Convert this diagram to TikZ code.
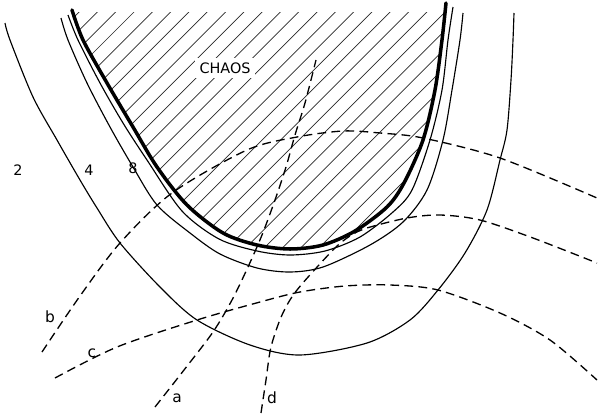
\documentclass[tikz,border=0pt]{standalone}
\usepackage{fontspec}
\setmainfont{DejaVu Sans}
\usetikzlibrary{calc}
\definecolor{hatchgray}{RGB}{40,40,40}

% boundary of the chaotic region, reused for the clip
\newcommand{\chaosedgepath}{plot[smooth] coordinates {
    (72,10) (83,40) (107,83) (133,127) (157,167) (187,205) (223,233)
    (257,245) (290,249) (323,245) (355,231) (387,207) (404,183)
    (423,140) (435,90) (442,40) (446,3)}}

\begin{document}
\begin{tikzpicture}[
    x=0.02cm, y=-0.02cm,
    chaosedge/.style={line width=2pt, line join=round, line cap=round},
    levelline/.style={line width=0.65pt},
    hatchline/.style={line width=0.4pt, color=hatchgray},
    orbit/.style={line width=0.75pt, dash pattern=on 5pt off 3pt},
    levellabel/.style={font=\fontsize{8.2}{10}\selectfont, inner sep=1pt},
    orbitlabel/.style={font=\fontsize{8.8}{11}\selectfont, inner sep=1pt},
    chaoslabel/.style={font=\fontsize{8.2}{10}\selectfont, fill=white,
                       inner sep=2.5pt},
]
\useasboundingbox (0,0) rectangle (599,416);

% ======================================================
% Hatched chaotic region inside the thick boundary
% ======================================================
\begin{scope}
  \clip (0,12) rectangle (599,416);
  \clip \chaosedgepath -- cycle;
  \foreach \n in {-14,...,16} {
      \draw[hatchline] ({329+18.3*\n},0) -- ++(-450,450);
  }
\end{scope}
\node[chaoslabel] (chaos) at (225,68) {CHAOS};

% ======================================================
% Level curves 2, 4, 8 and the chaos boundary
% ======================================================
\draw[levelline] plot[smooth] coordinates {
    (5,23) (10,40) (33,97) (57,140) (80,180) (97,208) (120,243)
    (160,287) (197,320) (250,345) (300,355) (367,343) (410,320)
    (438,290) (465,253) (487,210) (500,160) (507,130) (511,80)
    (513,40) (514,13)};
\draw[levelline] plot[smooth] coordinates {
    (61,18) (68,40) (87,83) (110,127) (133,167) (157,205) (190,233)
    (220,254) (257,268) (290,272) (323,267) (370,245) (403,222)
    (427,190) (443,140) (452,90) (460,40) (463,13)};
\draw[levelline] plot[smooth] coordinates {
    (68,15) (78,40) (100,83) (123,123) (147,160) (182,211) (219,239)
    (257,251) (290,255) (325,251) (360,237) (393,212) (412,190)
    (430,140) (442,90) (448,40) (453,7)};
\draw[chaosedge] \chaosedgepath;

\node[levellabel] (lab2) at (18,170) {2};
\node[levellabel] (lab4) at (89,170) {4};
\node[levellabel] (lab8) at (133,168) {8};

% ======================================================
% Trajectories a, b, c, d (dashed)
% ======================================================
\draw[orbit] plot[smooth] coordinates {
    (155,407) (184,370) (213,332) (232,300) (248,267) (262,235)
    (275,200) (286,167) (295,135) (305,103) (316,60)};
\draw[orbit] plot[smooth] coordinates {
    (42,352) (80,296) (120,243) (172,193) (247,150) (297,137)
    (343,131) (380,133) (423,138) (500,158) (597,198)};
\draw[orbit] plot[smooth] coordinates {
    (55,378) (117,347) (197,320) (260,302) (300,292) (345,286)
    (390,285) (438,290) (500,313) (550,340) (597,380)};
\draw[orbit] plot[smooth] coordinates {
    (261,413) (266,380) (271,347) (282,315) (297,290) (333,250)
    (350,236) (367,228) (407,218) (440,215) (480,220) (533,238)
    (597,263)};

\node[orbitlabel] (laba) at (177,398) {a};
\node[orbitlabel] (labb) at (50,317) {b};
\node[orbitlabel] (labc) at (92,353) {c};
\node[orbitlabel] (labd) at (272,398) {d};

\end{tikzpicture}
\end{document}
